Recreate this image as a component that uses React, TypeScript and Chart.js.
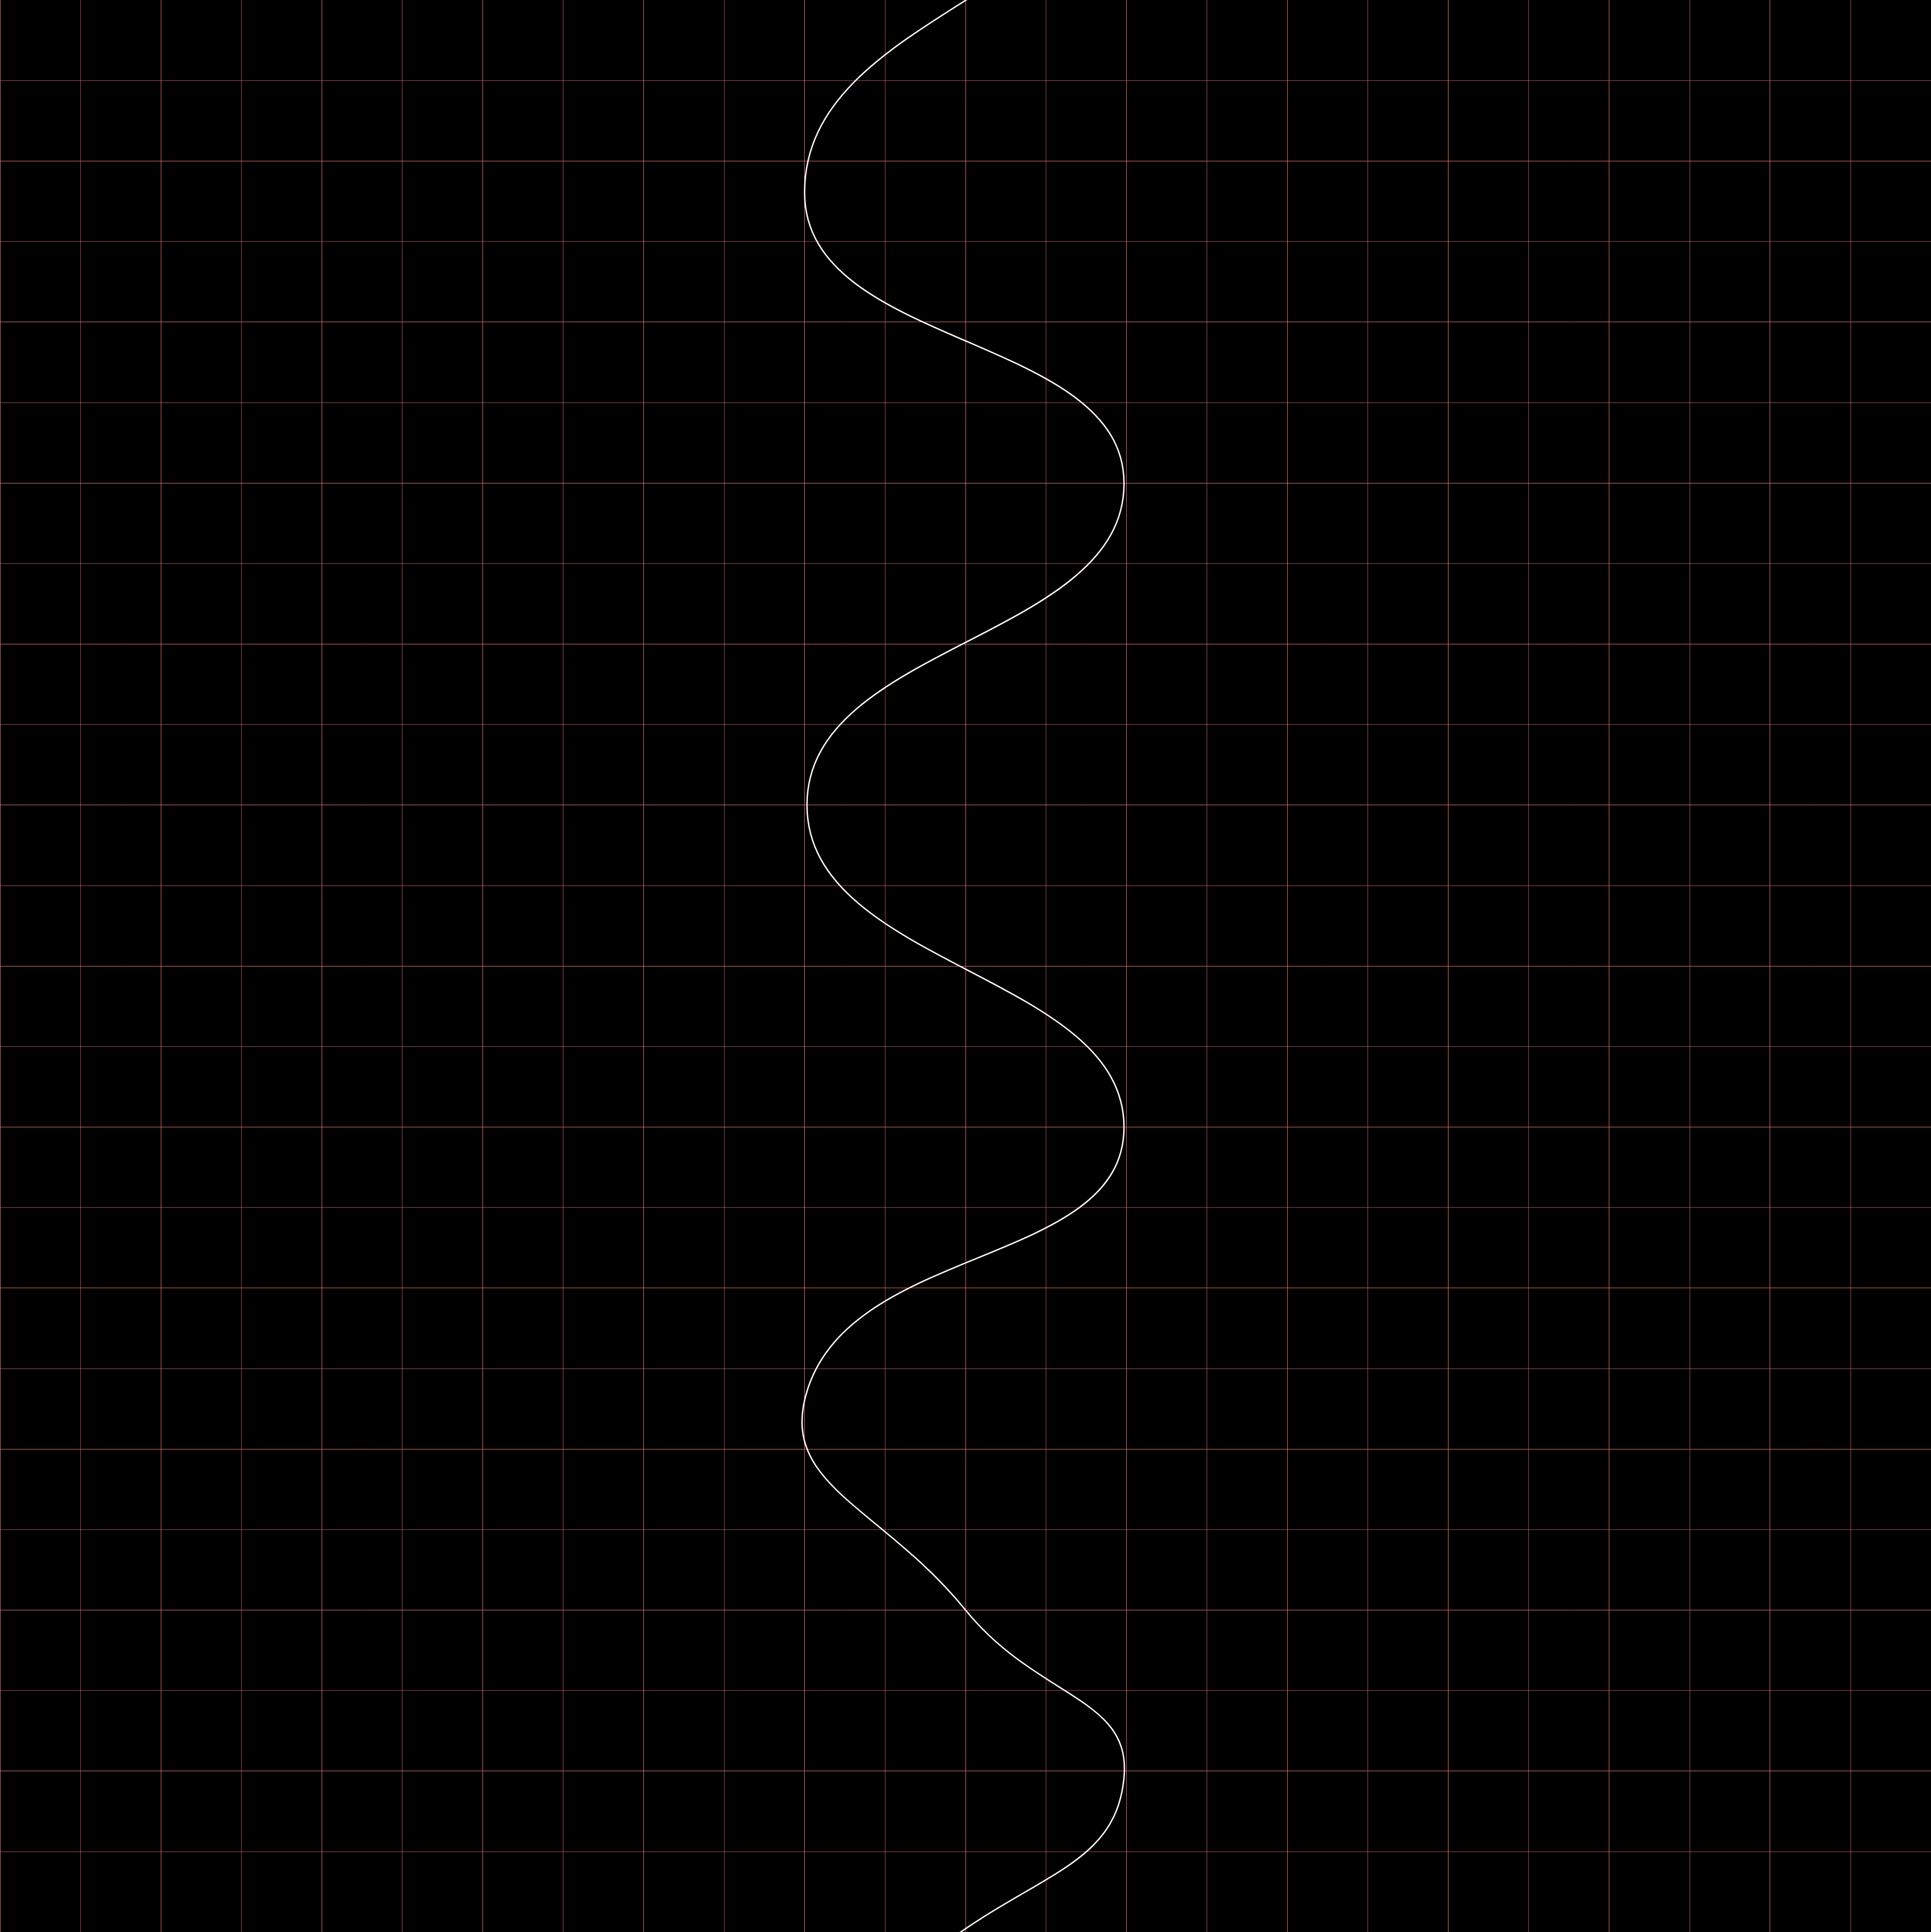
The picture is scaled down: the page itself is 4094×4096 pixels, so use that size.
import React, { useEffect, useRef } from "react";
import { Chart, registerables } from "chart.js";

Chart.register(...registerables);

// Horizontal position of each point of the curve (grid columns, 0..24)
const xValues: number[] = [10, 13.97, 10, 13.97, 10.03, 13.97, 10.04, 12, 13.97, 11.6, 10.5];
// Vertical position of each point (grid rows counted from the top, 0..24)
const yValues: number[] = [-6.4, -2.4, 2.39, 6, 10, 14, 17.25, 20, 22.08, 24.25, 24.8];

const AXIS_MIN = 0;
const AXIS_MAX = 24;

const LIGHT = "rgb(240,128,128)";
const DARK = "rgba(240,128,128,0.5)";
const W = 4094;
const H = 4096;

const bgPlugin = {
  id: "blackBg",
  beforeDraw(chart: any) {
    const ctx = chart.ctx;
    ctx.save();
    ctx.fillStyle = "#000000";
    ctx.fillRect(0, 0, chart.width, chart.height);
    ctx.restore();
  },
};

export default function App() {
  const ref = useRef<HTMLCanvasElement | null>(null);
  useEffect(() => {
    document.body.style.margin = "0";
    document.body.style.background = "#000";
    const canvas = ref.current;
    if (!canvas) return;
    const points = xValues.map((x, i) => ({ x, y: yValues[i] }));
    const gridColor = (c: any) => (c.index % 2 === 0 ? LIGHT : DARK);
    const yGridColor = (c: any) =>
      c.tick && c.tick.value === AXIS_MIN ? "rgba(0,0,0,0)" : gridColor(c);
    const gridWidth = (c: any) => (c.index % 2 === 0 ? 1 : 1.5);
    const chart = new Chart(canvas, {
      type: "line",
      data: {
        datasets: [
          {
            data: points,
            borderColor: "#fff4f4",
            borderWidth: 3,
            pointRadius: 0,
            fill: false,
            tension: 0.5,
          },
        ],
      },
      options: {
        indexAxis: "y",
        animation: false,
        responsive: false,
        maintainAspectRatio: false,
        devicePixelRatio: 1,
        layout: { padding: 0, autoPadding: false },
        plugins: { legend: { display: false }, title: { display: false }, tooltip: { enabled: false } },
        scales: {
          x: {
            type: "linear", min: AXIS_MIN, max: AXIS_MAX,
            ticks: { display: false, stepSize: 1 },
            grid: { color: gridColor, lineWidth: gridWidth, drawTicks: false },
            border: { display: true, color: LIGHT },
          },
          y: {
            type: "linear", reverse: true, min: AXIS_MIN, max: AXIS_MAX,
            ticks: { display: false, stepSize: 1 },
            grid: { color: yGridColor, lineWidth: gridWidth, drawTicks: false },
            border: { display: true, color: LIGHT },
          },
        },
      } as any,
      plugins: [bgPlugin],
    });
    return () => chart.destroy();
  }, []);
  return (
    <div style={{ width: W, height: H, background: "#000", overflow: "hidden" }}>
      <canvas ref={ref} width={W} height={H} style={{ display: "block", width: W, height: H }} />
    </div>
  );
}
